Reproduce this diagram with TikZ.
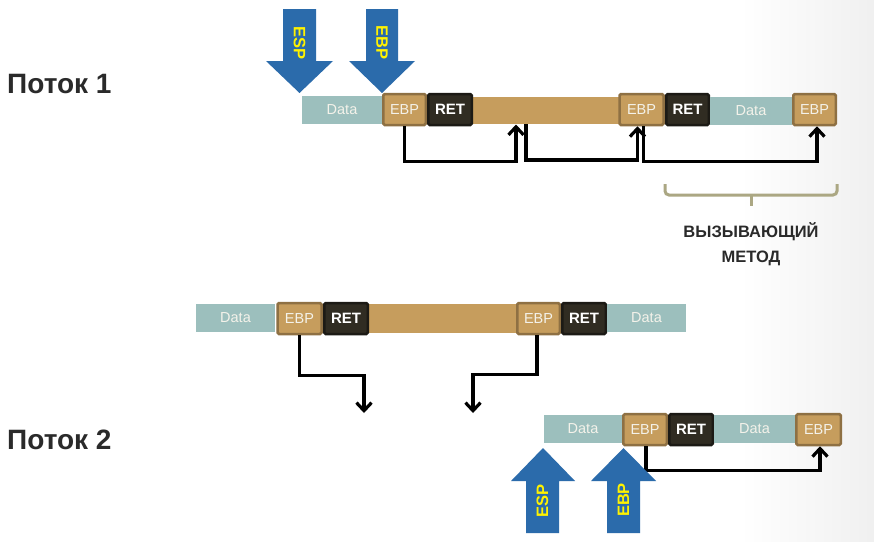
\documentclass[tikz,border=0pt]{standalone}
\usepackage{fontspec}
\setmainfont{Liberation Sans}
\usetikzlibrary{arrows.meta,calc}
\definecolor{datac}{HTML}{9CBFBD}
\definecolor{tanc}{HTML}{C69D5D}
\definecolor{tanb}{HTML}{8E7043}
\definecolor{retc}{HTML}{302C22}
\definecolor{retb}{HTML}{1C1A15}
\definecolor{blk}{HTML}{2B6BAB}
\definecolor{bracec}{HTML}{ABA783}
\definecolor{txt}{HTML}{2A2A2A}
\definecolor{boxtxt}{HTML}{F4F2EA}
\tikzset{
 box/.style={minimum height=28pt, inner sep=0pt, font=\fontsize{14.5}{14.5}\selectfont, text=boxtxt},
 databox/.style={box, fill=datac},
 ebpbox/.style={box, fill=tanc, draw=tanb, line width=2.5pt, rounded corners=1.5pt, minimum height=31pt},
 retbox/.style={box, fill=retc, draw=retb, line width=2.5pt, rounded corners=1.5pt, minimum height=31pt, text=white, font=\fontsize{15}{15}\selectfont\bfseries},
 barbox/.style={fill=tanc, inner sep=0pt, minimum height=27pt},
 conn/.style={line width=3.2pt, -{Straight Barb[length=8pt,width=15pt]}, line join=miter},
 blockarrow/.style={fill=blk},
 regtext/.style={text=yellow, inner sep=0pt, font=\fontsize{16.5}{16.5}\selectfont\bfseries},
 thread/.style={font=\fontsize{28}{28}\selectfont\bfseries, text=txt, anchor=base west, inner sep=0pt},
 bracelin/.style={draw=bracec, line width=3pt},
}
\begin{document}
\begin{tikzpicture}[x=1pt,y=-1pt]
\useasboundingbox (0,0) rectangle (874,541);
\fill[white] (0,0) rectangle (874,541);
\shade[left color=white, right color=black!6] (740,0) rectangle (874,541);

% thread labels
\node[thread] (t1) at (7,93) {Поток 1};
\node[thread] (t2) at (7,449) {Поток 2};

% ---------- top row ----------
\node[databox, minimum width=80pt] (dA) at (342,110) {Data};
\node[barbox, minimum width=150pt] (barA) at (546,110.5) {};
\node[ebpbox, minimum width=42.5pt] (eA) at (404.5,109.5) {EBP};
\node[retbox, minimum width=43.5pt] (rA) at (450,109.5) {RET};
\node[ebpbox, minimum width=44pt] (eB) at (641.5,109.5) {EBP};
\node[retbox, minimum width=42.5pt] (rB) at (687.5,109.5) {RET};
\node[databox, minimum width=82pt] (dB) at (751,110.5) {Data};
\node[ebpbox, minimum width=42.5pt] (eC) at (814.5,109.5) {EBP};

\coordinate (barAin) at (516,124.5);
\coordinate (barAout) at (526,124);
\draw[conn] (eA.south) -- ++(0,35) -| (barAin);
\draw[conn] (barAout) -- ++(0,36) -| ([xshift=-4pt]eB.south);
\draw[conn] ([xshift=2pt]eB.south) -- ++(0,35.5) -| ([xshift=2.5pt]eC.south);

% top block arrows
\fill[blockarrow] (283,9) -- (316,9) -- (316,61) -- (333,61) -- (299.5,93) -- (266,61) -- (283,61) -- cycle;
\node[regtext, rotate=-90] (espT) at (299.5,43) {ESP};
\fill[blockarrow] (366,9) -- (398,9) -- (398,61) -- (415,61) -- (382,93) -- (349,61) -- (366,61) -- cycle;
\node[regtext, rotate=-90] (ebpT) at (382,42.5) {EBP};

% brace and caption
\draw[bracelin, rounded corners=4pt] (665,184) -- (665,195) -- (837,195) -- (837,184);
\draw[bracelin] (751,195) -- (751,206);
\node[font=\fontsize{16.5}{25}\selectfont\bfseries, text=txt, align=center, inner sep=0pt] (caller) at (751,244) {ВЫЗЫВАЮЩИЙ\\МЕТОД};

% ---------- middle row ----------
\node[databox, minimum width=79pt] (dM1) at (235.5,318) {Data};
\node[barbox, minimum width=150pt, minimum height=29pt] (barM) at (442.5,318.5) {};
\node[ebpbox, minimum width=44pt] (eM1) at (299.5,318.5) {EBP};
\node[retbox, minimum width=43.5pt] (rM1) at (346,318.5) {RET};
\node[ebpbox, minimum width=42.5pt] (eM2) at (538.5,318.5) {EBP};
\node[retbox, minimum width=43.5pt] (rM2) at (584,318.5) {RET};
\node[databox, minimum width=79pt] (dM2) at (646.5,318) {Data};

\coordinate (mA) at (364,413);
\coordinate (mB) at (473,413);
\draw[conn] (eM1.south) -- ++(0,40) -| (mA);
\draw[conn] ([xshift=-1.5pt]eM2.south) -- ++(0,39.5) -| (mB);

% ---------- bottom row ----------
\node[databox, minimum width=78pt] (dL1) at (583,429) {Data};
\node[ebpbox, minimum width=43.5pt] (eL1) at (645,429.5) {EBP};
\node[retbox, minimum width=43.5pt] (rL1) at (691,429.5) {RET};
\node[databox, minimum width=81pt] (dL2) at (754.5,429) {Data};
\node[ebpbox, minimum width=44.5pt] (eL2) at (818.5,429.5) {EBP};

\draw[conn] ([xshift=1pt]eL1.south) -- ++(0,24) -| ([xshift=1.5pt]eL2.south);

% bottom block arrows
\fill[blockarrow] (526,533) -- (559,533) -- (559,481) -- (575,481) -- (543,448) -- (511,481) -- (526,481) -- cycle;
\node[regtext, rotate=90] (espB) at (542.5,500.5) {ESP};
\fill[blockarrow] (607,533) -- (640,533) -- (640,481) -- (656,481) -- (623.5,448) -- (591,481) -- (607,481) -- cycle;
\node[regtext, rotate=90] (ebpB) at (623.5,500) {EBP};
\end{tikzpicture}
\end{document}
